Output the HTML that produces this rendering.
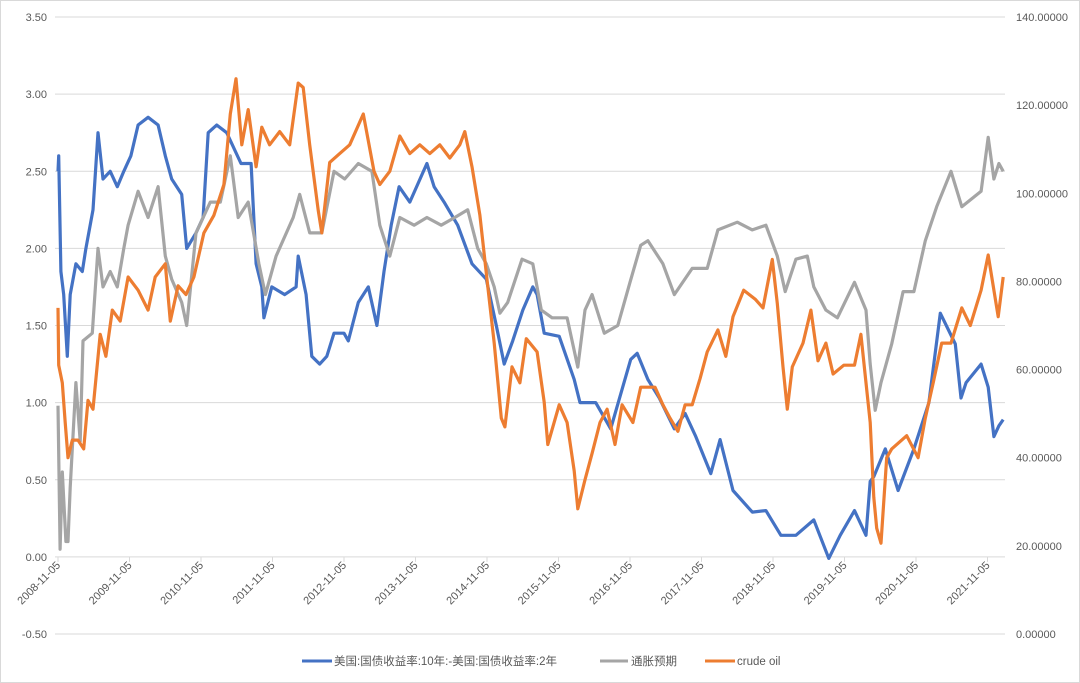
<!DOCTYPE html>
<html><head><meta charset="utf-8">
<style>
html,body{margin:0;padding:0;background:#fff;}
svg{display:block;font-family:"Liberation Sans","Noto Sans CJK SC",sans-serif;}
</style></head>
<body>
<svg id="chart" width="1080" height="683" viewBox="0 0 1080 683" xmlns="http://www.w3.org/2000/svg">
<rect x="0.5" y="0.5" width="1079" height="682" fill="#fff" stroke="#d9d9d9"/>
<g id="grid"></g>
<g id="yleft"></g>
<g id="yright"></g>
<g id="xaxis"></g>
<g id="series"></g>
<g id="legend">
  <line x1="302" y1="661" x2="332" y2="661" stroke="#4472c4" stroke-width="3"/>
  <text x="334" y="665" font-size="11.5" fill="#595959">美国:国债收益率:10年:-美国:国债收益率:2年</text>
  <line x1="600" y1="661" x2="628" y2="661" stroke="#a5a5a5" stroke-width="3"/>
  <text x="631" y="665" font-size="11.5" fill="#595959">通胀预期</text>
  <line x1="705" y1="661" x2="735" y2="661" stroke="#ed7d31" stroke-width="3"/>
  <text x="737" y="665" font-size="11.5" fill="#595959">crude oil</text>
</g>
</svg>
<script>
const leftTicks=[-0.5,0,0.5,1,1.5,2,2.5,3,3.5];
const rightTicks=[0,20,40,60,80,100,120,140];
const xTickYears=[2008,2009,2010,2011,2012,2013,2014,2015,2016,2017,2018,2019,2020,2021];

const spreadT=[2008.85,2008.86,2008.89,2008.93,2008.98,2009.02,2009.10,2009.19,2009.24,2009.34,2009.41,2009.48,2009.58,2009.68,2009.77,2009.87,2009.97,2010.11,2010.25,2010.35,2010.44,2010.58,2010.65,2010.78,2010.88,2010.95,2011.07,2011.21,2011.41,2011.55,2011.62,2011.70,2011.73,2011.84,2012.02,2012.18,2012.21,2012.32,2012.40,2012.51,2012.61,2012.71,2012.85,2012.91,2013.05,2013.19,2013.31,2013.41,2013.51,2013.62,2013.77,2014.01,2014.11,2014.25,2014.44,2014.64,2014.84,2014.98,2015.09,2015.21,2015.35,2015.49,2015.55,2015.65,2015.86,2016.07,2016.15,2016.37,2016.58,2016.86,2016.95,2017.10,2017.26,2017.47,2017.62,2017.77,2017.98,2018.11,2018.29,2018.56,2018.75,2018.96,2019.17,2019.42,2019.63,2019.79,2019.99,2020.15,2020.21,2020.26,2020.42,2020.60,2020.82,2021.03,2021.19,2021.40,2021.48,2021.55,2021.76,2021.86,2021.94,2022.01,2022.07];
const spreadV=[2.5,2.6,1.85,1.7,1.3,1.7,1.9,1.85,2.0,2.25,2.75,2.45,2.5,2.4,2.5,2.6,2.8,2.85,2.8,2.6,2.45,2.35,2.0,2.1,2.2,2.75,2.8,2.75,2.55,2.55,1.9,1.75,1.55,1.75,1.7,1.75,1.95,1.7,1.3,1.25,1.3,1.45,1.45,1.4,1.65,1.75,1.5,1.85,2.15,2.4,2.3,2.55,2.4,2.3,2.15,1.9,1.8,1.5,1.25,1.4,1.6,1.75,1.7,1.45,1.43,1.15,1.0,1.0,0.83,1.28,1.32,1.15,1.03,0.83,0.93,0.78,0.54,0.76,0.43,0.29,0.3,0.14,0.14,0.24,-0.01,0.14,0.3,0.14,0.49,0.52,0.7,0.43,0.7,1.0,1.58,1.38,1.03,1.13,1.25,1.1,0.78,0.85,0.89];

const inflT=[2008.85,2008.88,2008.91,2008.96,2008.99,2009.02,2009.10,2009.16,2009.20,2009.33,2009.37,2009.41,2009.48,2009.58,2009.68,2009.77,2009.83,2009.97,2010.11,2010.25,2010.35,2010.44,2010.58,2010.65,2010.78,2010.98,2011.12,2011.26,2011.37,2011.51,2011.66,2011.75,2011.90,2012.14,2012.23,2012.37,2012.54,2012.71,2012.86,2013.05,2013.24,2013.35,2013.49,2013.63,2013.83,2014.01,2014.21,2014.40,2014.58,2014.72,2014.84,2014.95,2015.03,2015.14,2015.34,2015.49,2015.61,2015.76,2015.97,2016.12,2016.22,2016.32,2016.49,2016.68,2016.85,2017.00,2017.10,2017.31,2017.47,2017.72,2017.93,2018.08,2018.35,2018.56,2018.75,2018.91,2019.02,2019.17,2019.33,2019.42,2019.59,2019.75,2019.99,2020.15,2020.21,2020.28,2020.36,2020.51,2020.67,2020.82,2020.98,2021.14,2021.34,2021.49,2021.76,2021.86,2021.94,2022.01,2022.07];
const inflV=[0.98,0.05,0.55,0.1,0.1,0.45,1.13,0.75,1.4,1.45,1.73,2.0,1.75,1.85,1.75,2.0,2.15,2.37,2.2,2.4,1.95,1.8,1.65,1.5,2.1,2.3,2.3,2.6,2.2,2.3,1.9,1.7,1.95,2.2,2.35,2.1,2.1,2.5,2.45,2.55,2.5,2.15,1.95,2.2,2.15,2.2,2.15,2.2,2.25,2.0,1.9,1.75,1.58,1.65,1.93,1.9,1.6,1.55,1.55,1.23,1.6,1.7,1.45,1.5,1.78,2.02,2.05,1.9,1.7,1.87,1.87,2.12,2.17,2.12,2.15,1.95,1.72,1.93,1.95,1.75,1.6,1.55,1.78,1.6,1.25,0.95,1.13,1.38,1.72,1.72,2.05,2.27,2.5,2.27,2.37,2.72,2.45,2.55,2.5];

const oilT=[2008.85,2008.86,2008.91,2008.95,2008.99,2009.05,2009.13,2009.21,2009.27,2009.34,2009.44,2009.52,2009.61,2009.72,2009.83,2009.97,2010.11,2010.21,2010.35,2010.42,2010.53,2010.64,2010.75,2010.89,2011.03,2011.17,2011.26,2011.34,2011.42,2011.51,2011.62,2011.70,2011.81,2011.95,2012.09,2012.21,2012.28,2012.37,2012.49,2012.54,2012.65,2012.79,2012.93,2013.12,2013.27,2013.35,2013.49,2013.63,2013.77,2013.91,2014.05,2014.19,2014.33,2014.47,2014.54,2014.64,2014.75,2014.86,2014.95,2015.05,2015.10,2015.20,2015.31,2015.40,2015.55,2015.65,2015.70,2015.86,2015.97,2016.07,2016.12,2016.22,2016.32,2016.43,2016.53,2016.64,2016.74,2016.89,2017.00,2017.20,2017.31,2017.41,2017.52,2017.62,2017.72,2017.83,2017.93,2018.08,2018.19,2018.29,2018.44,2018.60,2018.71,2018.84,2018.91,2018.99,2019.05,2019.12,2019.27,2019.38,2019.48,2019.59,2019.69,2019.84,2019.99,2020.08,2020.15,2020.21,2020.26,2020.30,2020.36,2020.44,2020.51,2020.72,2020.88,2020.98,2021.09,2021.21,2021.34,2021.49,2021.61,2021.76,2021.86,2022.00,2022.07];
const oilV=[74,61,57,48,40,44,44,42,53,51,68,63,73.5,71,81,78,73.5,81,84,71,79,77,81,91,95,102,118,126,111,119,106,115,111,114,111,125,124,111,96,91,107,109,111,118,105,102,105,113,109,111,109,111,108,111,114,106,95,79,66,49,47,60.6,57,67,64,52.6,43,52,48,37,28.4,35,41,48,51,43,52,48,56,56,52,49,46,52,52,58,64,69,63,72,78,76,74,85,75,60.6,51,60.6,66,73.5,62,66,59,61,61,68,57,48,31,24,20.6,40,42,45,40,49,57,66,66,74,70,78,86,72,81];

const NS='http://www.w3.org/2000/svg';
const X0=58, PXY=71.5, T0=2008.85;
const yTop=17, yBot=634;
function xs(t){return X0+(t-T0)*PXY;}
function yl(v){return yBot-(v-(-0.5))/(3.5-(-0.5))*(yBot-yTop);}
function yr(v){return yBot-(v-0)/(140-0)*(yBot-yTop);}
function mk(tag,attrs,parent){const e=document.createElementNS(NS,tag);for(const k in attrs)e.setAttribute(k,attrs[k]);parent.appendChild(e);return e;}

const grid=document.getElementById('grid');
const yL=document.getElementById('yleft');
leftTicks.forEach(v=>{
  const y=yl(v);
  if(v!==0){
    const g=mk('line',{x1:55,x2:1005,y1:y,y2:y,stroke:'#d9d9d9','stroke-width':1},grid);
    
    
  }
  const t=mk('text',{x:47,y:y+4,'font-size':11,fill:'#595959','text-anchor':'end'},yL);
  t.textContent=v.toFixed(2);
  
  
});
const yR=document.getElementById('yright');
rightTicks.forEach(v=>{
  const t=mk('text',{x:1016,y:yr(v)+4,'font-size':11,fill:'#595959'},yR);
  t.textContent=v.toFixed(5);
  
  
});
const xa=document.getElementById('xaxis');
const y0=yl(0);
const ax=mk('line',{x1:55,x2:1005,y1:y0,y2:y0,stroke:'#d9d9d9','stroke-width':1},xa);


xTickYears.forEach(yy=>{
  const x=xs(yy+0.85);
  const tk=mk('line',{x1:x,x2:x,y1:y0,y2:y0+5,stroke:'#d9d9d9'},xa);
  
  
  const t=mk('text',{x:x+3,y:y0+9,'font-size':11,fill:'#595959','text-anchor':'end',transform:`rotate(-45 ${x+3} ${y0+9})`},xa);
  t.textContent=yy+'-11-05';
  
  
});
const sg=document.getElementById('series');
function draw(T,V,scale,color,name){
  const d=T.map((t,i)=>(i?'L':'M')+xs(t).toFixed(1)+' '+scale(V[i]).toFixed(1)).join(' ');
  const p=mk('path',{d:d,fill:'none',stroke:color,'stroke-width':3.2,'stroke-linejoin':'round'},sg);
  
  
}
draw(spreadT,spreadV,yl,'#4472c4','series-yield-spread');
draw(inflT,inflV,yl,'#a5a5a5','series-inflation-expectation');
draw(oilT,oilV,yr,'#ed7d31','series-crude-oil');
</script>
</body></html>
